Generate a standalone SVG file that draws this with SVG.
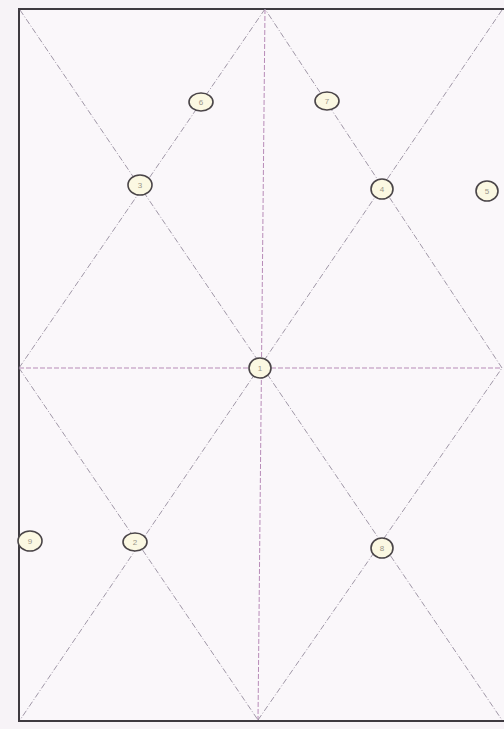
<svg xmlns="http://www.w3.org/2000/svg" width="504" height="729" viewBox="0 0 504 729">
<style>
.ln{stroke:#8a7f92;stroke-width:1;fill:none;stroke-dasharray:6 2 1 2;opacity:0.8}
.ctr{stroke:#b07fb0;stroke-width:1;fill:none;stroke-dasharray:5 2;opacity:0.9}
.frame{stroke:#3e3a40;stroke-width:2;fill:none}
.nd ellipse{fill:#fbf8e2;stroke:#4a4548;stroke-width:1.6}
.nd text{font-family:"Liberation Sans",Arial,sans-serif;font-size:8px;fill:#9a9588;text-anchor:middle;dominant-baseline:central}
</style>
<rect x="0" y="0" width="504" height="729" fill="#f7f3f7"/>
<rect x="19" y="9" width="485" height="712" fill="#faf7fa"/>
<polyline class="frame" points="504,9 19,9 19,721 504,721"/>
<g id="connectors">
<line class="ctr" x1="265" y1="9" x2="258" y2="720"/>
<line class="ctr" x1="19" y1="368" x2="502" y2="368"/>
<line class="ln" x1="265" y1="9" x2="19" y2="368"/>
<line class="ln" x1="19" y1="368" x2="258" y2="720"/>
<line class="ln" x1="258" y1="720" x2="502" y2="368"/>
<line class="ln" x1="502" y1="368" x2="265" y2="9"/>
<line class="ln" x1="20" y1="10" x2="502" y2="720"/>
<line class="ln" x1="502" y1="10" x2="20" y2="720"/>
</g>
<g id="n1" class="nd"><ellipse cx="260" cy="368" rx="11" ry="10"/><text x="260" y="368">1</text></g>
<g id="n2" class="nd"><ellipse cx="135" cy="542" rx="12" ry="9"/><text x="135" y="542">2</text></g>
<g id="n3" class="nd"><ellipse cx="140" cy="185" rx="12" ry="10"/><text x="140" y="185">3</text></g>
<g id="n4" class="nd"><ellipse cx="382" cy="189" rx="11" ry="10"/><text x="382" y="189">4</text></g>
<g id="n5" class="nd"><ellipse cx="487" cy="191" rx="11" ry="10"/><text x="487" y="191">5</text></g>
<g id="n6" class="nd"><ellipse cx="201" cy="102" rx="12" ry="9"/><text x="201" y="102">6</text></g>
<g id="n7" class="nd"><ellipse cx="327" cy="101" rx="12" ry="9"/><text x="327" y="101">7</text></g>
<g id="n8" class="nd"><ellipse cx="382" cy="548" rx="11" ry="10"/><text x="382" y="548">8</text></g>
<g id="n9" class="nd"><ellipse cx="30" cy="541" rx="12" ry="10"/><text x="30" y="541">9</text></g>
</svg>
